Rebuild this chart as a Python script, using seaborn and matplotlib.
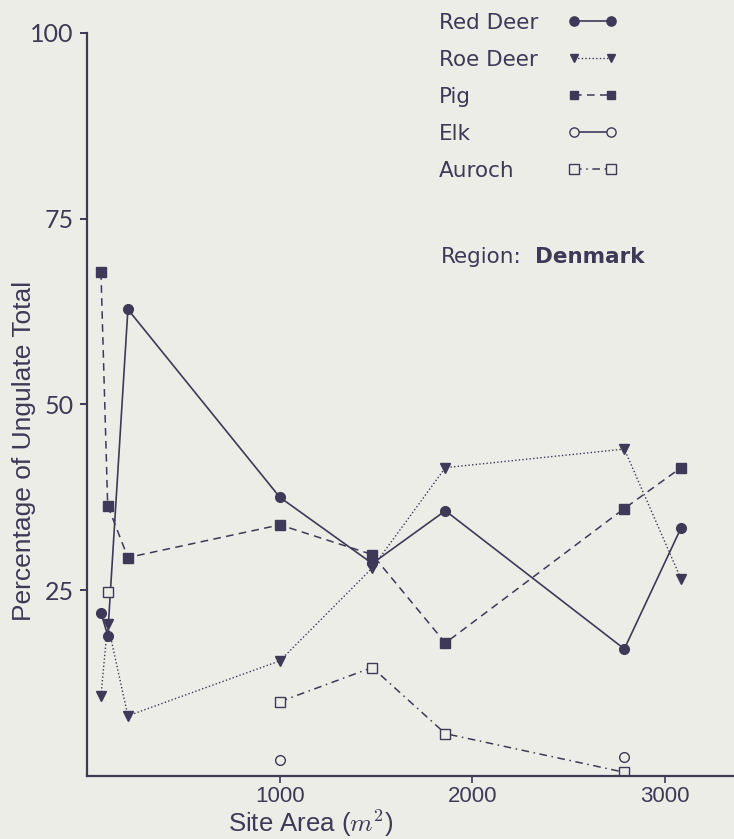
import numpy as np
import pandas as pd
import matplotlib
matplotlib.use("Agg")
import matplotlib.pyplot as plt
import seaborn as sns
from matplotlib.lines import Line2D

# Denmark: % of ungulate total by site area
site_area = [70, 105, 210, 1000, 1480, 1860, 2790, 3085]
red_deer = [22.0, 18.9, 62.8, 37.5, 28.6, 35.7, 17.1, 33.4]
roe_deer = [10.8, 20.5, 8.1, 15.5, 28.0, 41.5, 44.0, 26.5]
pig = [67.8, 36.4, 29.4, 33.8, 29.8, 17.9, 36.0, 41.5]
elk = [np.nan, np.nan, np.nan, 2.2, np.nan, np.nan, 2.6, np.nan]
auroch = [np.nan, 24.8, np.nan, 10.0, 14.6, 5.7, 0.5, np.nan]

species = ['Red Deer', 'Roe Deer', 'Pig', 'Elk', 'Auroch']
x_ticks = [1000, 2000, 3000]
y_ticks = [25, 50, 75, 100]

INK = '#3e3956'
BG = '#ededE8'

# look of each series: marker, filled?, line style, line width
estilo = {
    'Red Deer': dict(marker='o', ms=7, filled=True, ls='-', lw=1.2),
    'Roe Deer': dict(marker='v', ms=6.5, filled=True, ls=(0, (1, 1.6)), lw=1.0),
    'Pig': dict(marker='s', ms=6.5, filled=True, ls=(0, (5, 3.5)), lw=1.1),
    'Elk': dict(marker='o', ms=7, filled=False, ls='-', lw=1.2),
    'Auroch': dict(marker='s', ms=7, filled=False, ls=(0, (5, 3, 1, 3)), lw=1.1),
}

sns.set_style("ticks")
plt.rcParams['font.family'] = ['DejaVu Sans']
plt.rcParams['mathtext.fontset'] = 'cm'
plt.rcParams['text.color'] = INK
plt.rcParams['axes.labelcolor'] = INK

df = pd.DataFrame({'site': site_area, 'Red Deer': red_deer, 'Roe Deer': roe_deer,
                   'Pig': pig, 'Elk': elk, 'Auroch': auroch})
df = df.melt(id_vars='site', var_name='species', value_name='pct')
# gaps in a series break the line -> one "unit" per contiguous run
df['seg'] = df.groupby('species')['pct'].transform(lambda s: s.isna().cumsum())
df = df.dropna()

fig = plt.figure(figsize=(7.34, 8.39), dpi=100, facecolor=BG)
ax = fig.add_axes([0.1192, 0.0751, 0.8808, 0.8856])
ax.set_facecolor(BG)

for sp in species:
    st = estilo[sp]
    sns.lineplot(data=df[df['species'] == sp], x='site', y='pct', units='seg',
                 estimator=None, ax=ax, legend=False, color=INK,
                 linestyle=st['ls'], linewidth=st['lw'], marker=st['marker'],
                 markersize=st['ms'], markeredgecolor=INK, markeredgewidth=1.0,
                 markerfacecolor=INK if st['filled'] else BG)

ax.set_xlim(0, 3360)
ax.set_ylim(0, 100)
ax.set_xticks(x_ticks)
ax.set_yticks(y_ticks)
ax.set_xticklabels([str(v) for v in x_ticks],
                   family=['Liberation Sans Narrow', 'Liberation Sans'], fontsize=16)
ax.set_yticklabels([str(v) for v in y_ticks], family='Lato', fontsize=18)
sns.despine(ax=ax)
for s in ['left', 'bottom']:
    ax.spines[s].set_color(INK)
    ax.spines[s].set_linewidth(1.6)
ax.tick_params(axis='y', length=5, width=1.4, pad=5, colors=INK)
ax.tick_params(axis='x', length=5, width=1.2, pad=2, colors=INK)

ax.set_ylabel('Percentage of Ungulate Total', family='Liberation Sans', fontsize=19)
ax.set_xlabel('Site Area ($m^2$)', family='Liberation Sans', fontsize=18.5)
ax.yaxis.set_label_coords(-0.079, 0.437)
ax.xaxis.set_label_coords(0.346, -0.043)

# legend: names in the first column, sample lines in the second
blank = [Line2D([], [], linestyle='none', marker='') for _ in species]
amostras = []
for sp in species:
    st = estilo[sp]
    amostras.append(Line2D([], [], color=INK, linestyle=st['ls'], linewidth=st['lw'],
                           marker=st['marker'], markersize=st['ms'] * 0.95,
                           markeredgecolor=INK, markeredgewidth=1.0,
                           markerfacecolor=INK if st['filled'] else BG))
leg = ax.legend(blank + amostras, species + [''] * 5, ncol=2, numpoints=2,
                loc='upper left', bbox_to_anchor=(380 / 734, 1 - 13 / 839),
                bbox_transform=fig.transFigure, frameon=False, fontsize=15.5,
                handlelength=2.32, handletextpad=0.4, columnspacing=1.37,
                labelspacing=0.79, borderpad=0, borderaxespad=0)
for t in leg.get_texts():
    t.set_color(INK)

fig.text(441 / 734, 1 - 263 / 839, 'Region:', fontsize=15.5, color=INK)
fig.text(535 / 734, 1 - 263 / 839, 'Denmark', fontsize=15.5, color=INK, weight='bold')

fig.savefig('out.png', dpi=100, facecolor=BG)
